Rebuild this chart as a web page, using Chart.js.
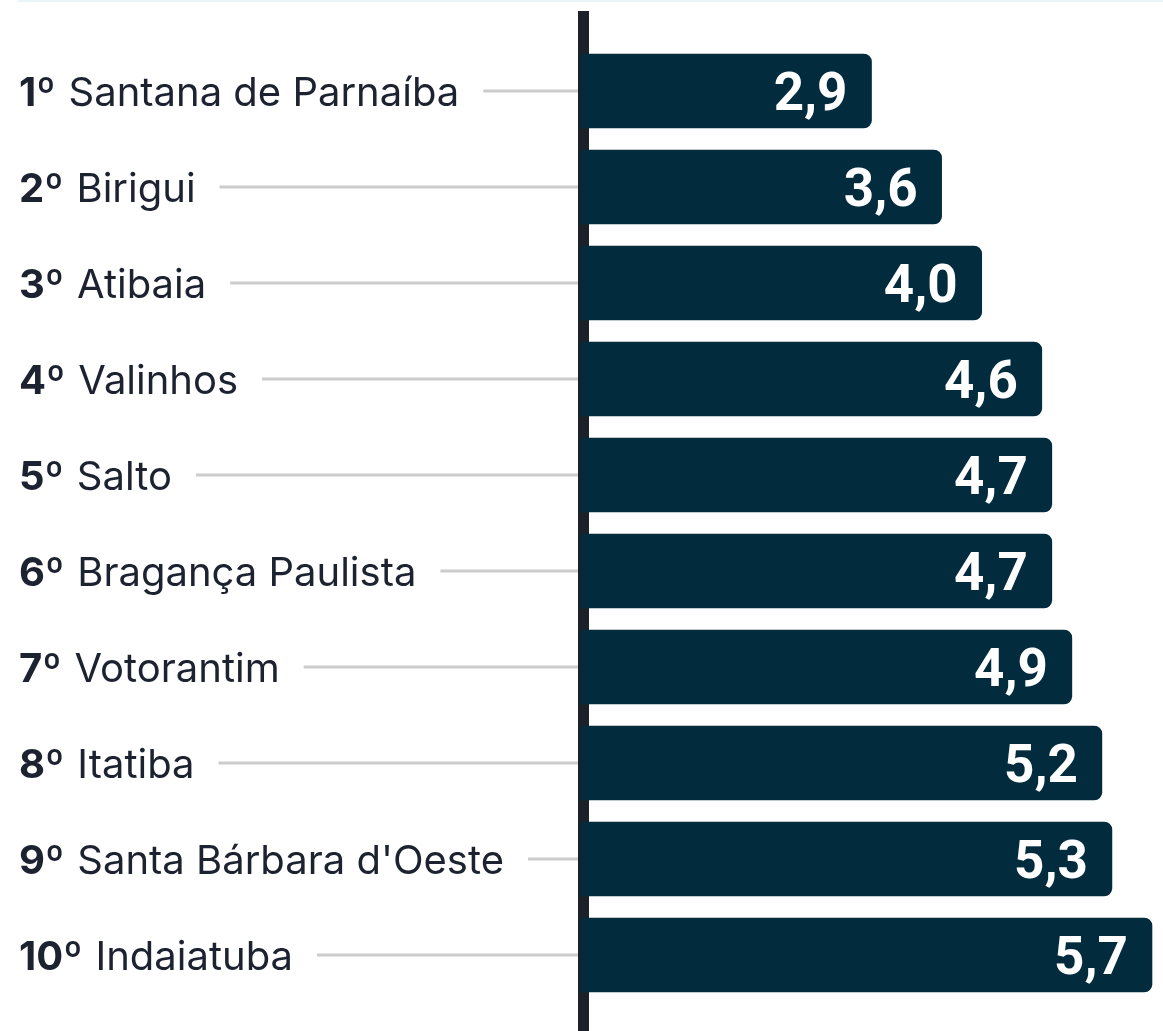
<!DOCTYPE html>
<html><head><meta charset="utf-8">
<script src="https://cdn.jsdelivr.net/npm/chart.js@4/dist/chart.umd.min.js"></script>
<style>
html,body{margin:0;padding:0;background:#fff;}
#wrap{position:relative;width:1163px;height:1031px;}
</style></head><body>
<div id="wrap"><canvas id="c" width="1163" height="1031"></canvas></div>
<script>
const ranks = ['1º','2º','3º','4º','5º','6º','7º','8º','9º','10º'];
const cities = ['Santana de Parnaíba','Birigui','Atibaia','Valinhos','Salto','Bragança Paulista','Votorantim','Itatiba',"Santa Bárbara d'Oeste",'Indaiatuba'];
const values = [2.9,3.6,4.0,4.6,4.7,4.7,4.9,5.2,5.3,5.7];
const valueLabels = ['2,9','3,6','4,0','4,6','4,7','4,7','4,9','5,2','5,3','5,7'];

const decor = {
  id:'decor',
  beforeDatasetsDraw(chart){
    const ctx = chart.ctx, ca = chart.chartArea, ys = chart.scales.y;
    ctx.save();
    ctx.fillStyle = '#e6f5f6';
    ctx.fillRect(18,0,chart.width-18,2);
    ctx.textBaseline = 'alphabetic';
    for(let i=0;i<cities.length;i++){
      const y = ys.getPixelForValue(i);
      ctx.font = '700 40px Inter';
      ctx.fillStyle = '#1d2230';
      ctx.fillText(ranks[i], 19, y + 15);
      const rw = ctx.measureText(ranks[i]).width;
      ctx.font = '400 40px Inter';
      const nx = 19 + rw + 13;
      ctx.fillText(cities[i], nx, y + 15);
      const nw = ctx.measureText(cities[i]).width;
      ctx.strokeStyle = '#cccccc';
      ctx.lineWidth = 3;
      ctx.beginPath();
      ctx.moveTo(nx + nw + 24, y);
      ctx.lineTo(ca.left, y);
      ctx.stroke();
    }
    ctx.fillStyle = '#1c2029';
    ctx.fillRect(ca.left-3, 11, 11, chart.height-11);
    ctx.restore();
  },
  afterDatasetsDraw(chart){
    const ctx = chart.ctx;
    const meta = chart.getDatasetMeta(0);
    ctx.save();
    ctx.font = '700 53px Roboto';
    ctx.fillStyle = '#ffffff';
    ctx.textAlign = 'right';
    ctx.textBaseline = 'alphabetic';
    meta.data.forEach((bar,i)=>{
      ctx.fillText(valueLabels[i], bar.x - 24, bar.y + 19);
    });
    ctx.restore();
  }
};

new Chart(document.getElementById('c'),{
  type:'bar',
  data:{labels:cities,datasets:[{data:values,backgroundColor:'#022c3e',borderRadius:{topLeft:0,bottomLeft:0,topRight:8,bottomRight:8},borderSkipped:false,barThickness:74}]},
  options:{
    indexAxis:'y',
    responsive:false,
    animation:false,
    devicePixelRatio:1,
    layout:{padding:{left:581,right:0,top:43,bottom:28}},
    scales:{
      x:{display:false,min:0,max:5.81},
      y:{display:false}
    },
    plugins:{legend:{display:false},tooltip:{enabled:false}}
  },
  plugins:[decor]
});
</script>
</body></html>
